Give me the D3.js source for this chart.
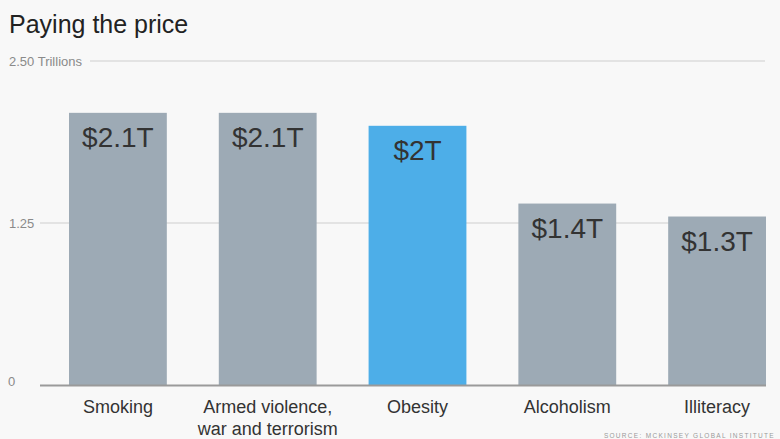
<!DOCTYPE html>
<html><head><meta charset="utf-8">
<script src="https://cdn.jsdelivr.net/npm/d3@7"></script>
<style>
html,body{margin:0;padding:0;background:#f8f8f8;}
svg{display:block;font-family:"Helvetica Neue","Liberation Sans",Arial,sans-serif;}
</style></head>
<body><svg id="chart" width="780" height="439"></svg>
<script>
const categories = [["Smoking"], ["Armed violence,", "war and terrorism"], ["Obesity"], ["Alcoholism"], ["Illiteracy"]];
const values = [2.1, 2.1, 2.0, 1.4, 1.3];
const valueLabels = ["$2.1T", "$2.1T", "$2T", "$1.4T", "$1.3T"];
const highlight = [false, false, true, false, false];
const tickValues = [0, 1.25, 2.5];
const tickLabels = ["0", "1.25", "2.50 Trillions"];
const title = "Paying the price";
const source = "SOURCE: MCKINSEY GLOBAL INSTITUTE";

const svg = d3.select("#chart");
const W = 780, H = 439;
svg.append("rect").attr("width", W).attr("height", H).attr("fill", "#f8f8f8");

const y = d3.scaleLinear().domain([0, 2.5]).range([385, 61]);
const x = d3.scaleBand().domain(d3.range(values.length)).range([69, 766]).paddingInner(0.347).paddingOuter(0);

// title
svg.append("text").attr("x", 9).attr("y", 33).attr("font-size", 25).attr("fill", "#222").text(title);

// gridlines and tick labels
tickValues.forEach((t, i) => {
  const yy = y(t);
  svg.append("text").attr("x", t === 0 ? 8 : 9).attr("y", t === 0 ? yy - 4 : yy).attr("dy", "0.35em")
    .attr("font-size", 13).attr("fill", "#8a8a8a").text(tickLabels[i]);
  if (t !== 0) {
    const startX = i === tickValues.length - 1 ? 90 : 40;
    svg.append("line").attr("x1", startX).attr("x2", 765).attr("y1", yy).attr("y2", yy)
      .attr("stroke", "#dcdcdc").attr("stroke-width", 1.5);
  }
});

// bars
svg.selectAll("rect.bar").data(values).join("rect").attr("class", "bar")
  .attr("x", (d, i) => x(i)).attr("width", x.bandwidth())
  .attr("y", d => y(d)).attr("height", d => y(0) - y(d))
  .attr("fill", (d, i) => highlight[i] ? "#4daee8" : "#9daab5");

// baseline
svg.append("line").attr("x1", 40).attr("x2", 766).attr("y1", y(0) + 0.5).attr("y2", y(0) + 0.5)
  .attr("stroke", "#9a9a9a").attr("stroke-width", 2);

// value labels
svg.selectAll("text.val").data(values).join("text").attr("class", "val")
  .attr("x", (d, i) => x(i) + x.bandwidth() / 2).attr("y", d => y(d) + 34)
  .attr("text-anchor", "middle").attr("font-size", 28).attr("fill", "#333")
  .text((d, i) => valueLabels[i]);

// category labels
categories.forEach((lines, i) => {
  const t = svg.append("text").attr("text-anchor", "middle").attr("font-size", 18).attr("fill", "#333");
  lines.forEach((ln, j) => {
    t.append("tspan").attr("x", x(i) + x.bandwidth() / 2).attr("y", 413 + j * 22).text(ln);
  });
});

// source
svg.append("text").attr("x", 775).attr("y", 438).attr("text-anchor", "end")
  .attr("font-size", 6.5).attr("letter-spacing", 1.3).attr("fill", "#9a9a9a").text(source);
</script>
</body></html>
